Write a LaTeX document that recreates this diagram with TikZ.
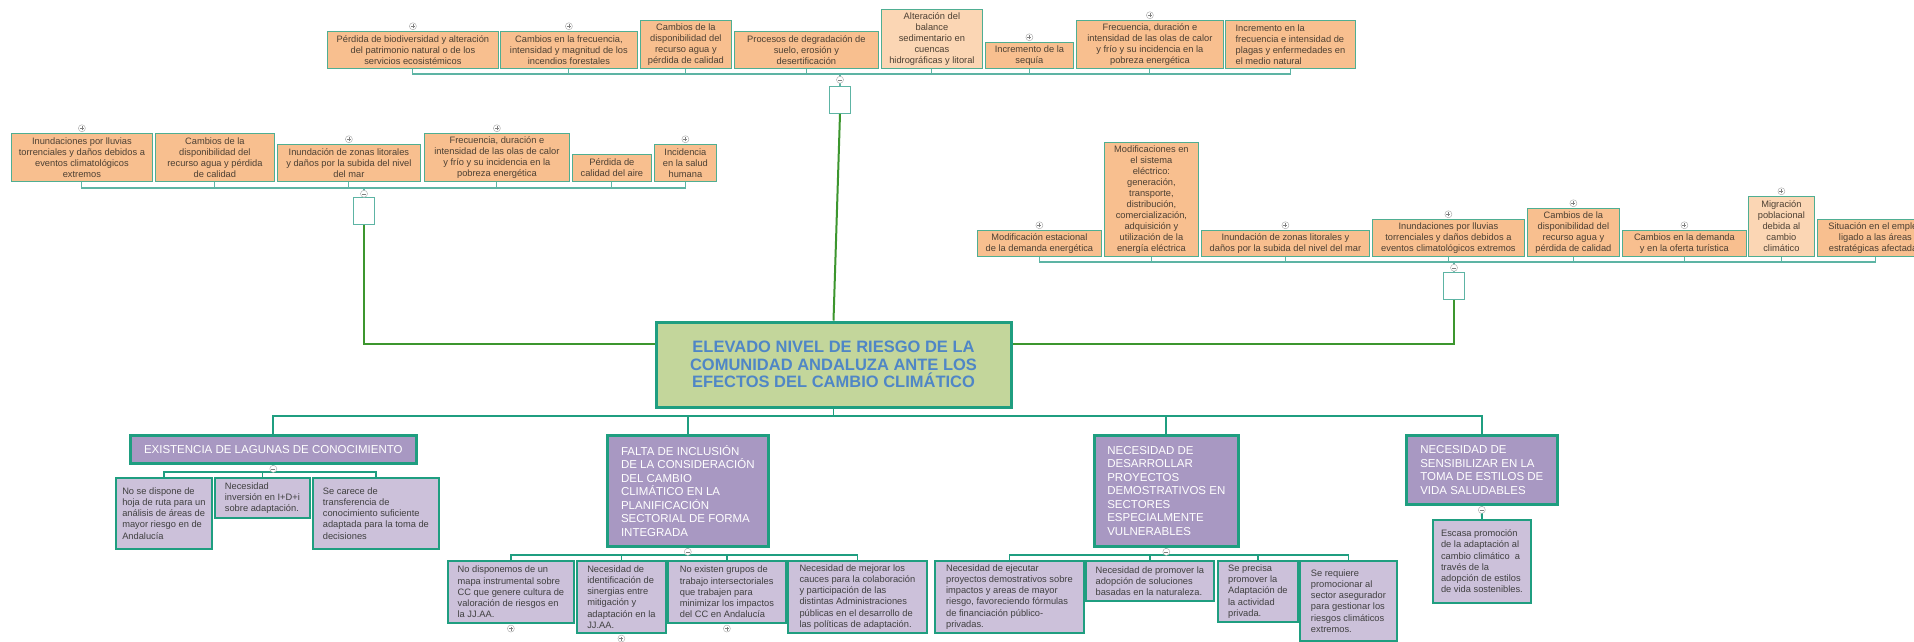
\documentclass[tikz,border=0pt]{standalone}
\usepackage{fontspec}
\setmainfont{Liberation Sans}
\usetikzlibrary{positioning}

\definecolor{boxorange}{HTML}{F8BF8F}
\definecolor{boxpeach}{HTML}{FBD6B4}
\definecolor{boxline}{HTML}{4FAE92}
\definecolor{boxtext}{HTML}{4D4033}
\definecolor{rootgreen}{HTML}{C3D69B}
\definecolor{rootblue}{HTML}{4F86C6}
\definecolor{tealline}{HTML}{1F9E80}
\definecolor{lightteal}{HTML}{5DB4A4}
\definecolor{linkgreen}{HTML}{3C962E}
\definecolor{catpurple}{HTML}{A898C2}
\definecolor{kidpurple}{HTML}{CCC1DA}
\definecolor{kidtext}{HTML}{404040}

\begin{document}
\begin{tikzpicture}[x=1pt, y=-1pt,
    orange box/.style={draw=boxline, line width=0.8pt, fill=boxorange, text=boxtext,
      font=\fontsize{9.3}{11}\selectfont, align=center, inner xsep=3pt, inner ysep=2pt, anchor=north west},
    peach box/.style={orange box, fill=boxpeach},
    empty box/.style={draw=lightteal, line width=0.8pt, fill=white, minimum width=21pt, minimum height=27pt, anchor=north},
    root box/.style={draw=tealline, line width=3pt, fill=rootgreen, text=rootblue,
      font=\bfseries\fontsize{16.5}{17.5}\selectfont, align=center, minimum width=355pt, minimum height=85pt},
    cat box/.style={draw=tealline, line width=2.6pt, fill=catpurple, text=white,
      font=\fontsize{11.5}{13.5}\selectfont, align=left, anchor=north west, inner sep=5pt},
    kid box/.style={draw=tealline, line width=1.8pt, fill=kidpurple, text=kidtext,
      font=\fontsize{9.3}{11.2}\selectfont, align=left, anchor=north west, inner xsep=4pt, inner ysep=2pt},
    thin bus/.style={draw=lightteal, line width=1.1pt},
    cat bus/.style={draw=tealline, line width=1.8pt},
    link/.style={draw=linkgreen, line width=2pt},
    plus mark/.style={circle, draw=gray!60, fill=white, line width=0.5pt, minimum size=7pt, inner sep=0pt,
      path picture={\draw[gray, line width=0.5pt]
        ([xshift=-2pt]path picture bounding box.center) -- ([xshift=2pt]path picture bounding box.center)
        ([yshift=-2pt]path picture bounding box.center) -- ([yshift=2pt]path picture bounding box.center);}},
    minus mark/.style={circle, draw=gray!60, fill=white, line width=0.5pt, minimum size=7pt, inner sep=0pt,
      path picture={\draw[gray, line width=0.5pt]
        ([xshift=-2pt]path picture bounding box.center) -- ([xshift=2pt]path picture bounding box.center);}},
  ]
  \useasboundingbox (0,0) rectangle (1914,641);
  \fill[white] (0,0) rectangle (1914,641);
  \clip (0,0) rectangle (1914,641);

  % root
  \node[root box] (root) at (833.5,364.5) {ELEVADO NIVEL DE RIESGO DE LA\\COMUNIDAD ANDALUZA ANTE LOS\\EFECTOS DEL CAMBIO CLIM\'ATICO};

  % top cluster
  \node[orange box, minimum width=171pt, minimum height=37pt] (t1) at (327,31) {P\'erdida de biodiversidad y alteraci\'on\\del patrimonio natural o de los\\servicios ecosist\'emicos};
  \node[orange box, minimum width=137pt, minimum height=37pt] (t2) at (500,31) {Cambios en la frecuencia,\\intensidad y magnitud de los\\incendios forestales};
  \node[orange box, minimum width=91pt, minimum height=48pt] (t3) at (640,20) {Cambios de la\\disponibilidad del\\recurso agua y\\p\'erdida de calidad};
  \node[orange box, minimum width=144pt, minimum height=37pt] (t4) at (734,31) {Procesos de degradaci\'on de\\suelo, erosi\'on y\\desertificaci\'on};
  \node[peach box, minimum width=101pt, minimum height=59pt] (t5) at (881,9) {Alteraci\'on del\\balance\\sedimentario en\\cuencas\\hidrogr\'aficas y litoral};
  \node[orange box, minimum width=88pt, minimum height=26pt] (t6) at (985,42) {Incremento de la\\sequ\'ia};
  \node[orange box, minimum width=147pt, minimum height=48pt] (t7) at (1076,20) {Frecuencia, duraci\'on e\\intensidad de las olas de calor\\y fr\'io y su incidencia en la\\pobreza energ\'etica};
  \node[orange box, minimum width=130pt, minimum height=48pt, align=left] (t8) at (1225,20) {Incremento en la\\frecuencia e intensidad de\\plagas y enfermedades en\\el medio natural};

  \coordinate (tbus) at (840,74);
  \foreach \n in {t1,t2,t3,t4,t5,t6,t7,t8}
    \draw[thin bus] (\n.south) |- (tbus);
  \node[empty box] (etop) at (840,86) {};
  \draw[thin bus] (tbus) -- (etop.north);
  \draw[link] (etop.south) -- (root.north);

  % left cluster
  \node[orange box, minimum width=141pt, minimum height=48pt] (l1) at (11,133) {Inundaciones por lluvias\\torrenciales y da\~nos debidos a\\eventos climatol\'ogicos\\extremos};
  \node[orange box, minimum width=119pt, minimum height=48pt] (l2) at (155,133) {Cambios de la\\disponibilidad del\\recurso agua y p\'erdida\\de calidad};
  \node[orange box, minimum width=143pt, minimum height=37pt] (l3) at (277,144) {Inundaci\'on de zonas litorales\\y da\~nos por la subida del nivel\\del mar};
  \node[orange box, minimum width=145pt, minimum height=48pt] (l4) at (424,133) {Frecuencia, duraci\'on e\\intensidad de las olas de calor\\y fr\'io y su incidencia en la\\pobreza energ\'etica};
  \node[orange box, minimum width=79pt, minimum height=27pt] (l5) at (572,154) {P\'erdida de\\calidad del aire};
  \node[orange box, minimum width=62pt, minimum height=37pt] (l6) at (654,144) {Incidencia\\en la salud\\humana};

  \coordinate (lbus) at (364,188);
  \foreach \n in {l1,l2,l3,l4,l5,l6}
    \draw[thin bus] (\n.south) |- (lbus);
  \node[empty box] (eleft) at (364,197) {};
  \draw[thin bus] (lbus) -- (eleft.north);
  \draw[link] (eleft.south) |- ([yshift=21pt]root.west);

  % right cluster
  \node[orange box, minimum width=124pt, minimum height=26pt] (r1) at (977,230) {Modificaci\'on estacional\\de la demanda energ\'etica};
  \node[orange box, minimum width=94pt, minimum height=114pt] (r2) at (1104,142) {Modificaciones en\\el sistema\\el\'ectrico:\\generaci\'on,\\transporte,\\distribuci\'on,\\comercializaci\'on,\\adquisici\'on y\\utilizaci\'on de la\\energ\'ia el\'ectrica};
  \node[orange box, minimum width=168pt, minimum height=26pt] (r3) at (1201,230) {Inundaci\'on de zonas litorales y\\da\~nos por la subida del nivel del mar};
  \node[orange box, minimum width=152pt, minimum height=37pt] (r4) at (1372,219) {Inundaciones por lluvias\\torrenciales y da\~nos debidos a\\eventos climatol\'ogicos extremos};
  \node[orange box, minimum width=92pt, minimum height=48pt] (r5) at (1527,208) {Cambios de la\\disponibilidad del\\recurso agua y\\p\'erdida de calidad};
  \node[orange box, minimum width=124pt, minimum height=26pt] (r6) at (1622,230) {Cambios en la demanda\\y en la oferta tur\'istica};
  \node[peach box, minimum width=66pt, minimum height=60pt] (r7) at (1748,196) {Migraci\'on\\poblacional\\debida al\\cambio\\clim\'atico};
  \node[orange box, minimum width=116pt, minimum height=37pt] (r8) at (1817,219) {Situaci\'on en el empleo\\ligado a las \'areas\\estrat\'egicas afectadas};

  \coordinate (rbus) at (1454,262);
  \foreach \n in {r1,r2,r3,r4,r5,r6,r7,r8}
    \draw[thin bus] (\n.south) |- (rbus);
  \node[empty box] (eright) at (1454,272) {};
  \draw[thin bus] (rbus) -- (eright.north);
  \draw[link] (eright.south) |- ([yshift=21pt]root.east);

  % problems below the root
  \node[cat box, minimum width=286pt, minimum height=28pt, align=center] (p1) at (129,434) {EXISTENCIA DE LAGUNAS DE CONOCIMIENTO};
  \node[cat box, minimum width=161pt, minimum height=111pt] (p2) at (606,434) {FALTA DE INCLUSI\'ON\\DE LA CONSIDERACI\'ON\\DEL CAMBIO\\CLIM\'ATICO EN LA\\PLANIFICACI\'ON\\SECTORIAL DE FORMA\\INTEGRADA};
  \node[cat box, minimum width=144pt, minimum height=111pt] (p3) at (1093,434) {NECESIDAD DE\\DESARROLLAR\\PROYECTOS\\DEMOSTRATIVOS EN\\SECTORES\\ESPECIALMENTE\\VULNERABLES};
  \node[cat box, minimum width=151pt, minimum height=69pt] (p4) at (1405,434) {NECESIDAD DE\\SENSIBILIZAR EN LA\\TOMA DE ESTILOS DE\\VIDA SALUDABLES};

  \coordinate (bbus) at (833.5,416);
  \draw[cat bus] (root.south) -- (bbus);
  \foreach \n in {p1,p2,p3,p4}
    \draw[cat bus] (\n.north) |- (bbus);

  \node[kid box, minimum width=96pt, minimum height=71pt] (k11) at (115,477) {No se dispone de\\hoja de ruta para un\\an\'alisis de \'areas de\\mayor riesgo en de\\Andaluc\'ia};
  \node[kid box, minimum width=95pt, minimum height=40pt] (k12) at (214,477) {Necesidad\\inversi\'on en I+D+i\\sobre adaptaci\'on.};
  \node[kid box, minimum width=126pt, minimum height=71pt] (k13) at (312,477) {Se carece de\\transferencia de\\conocimiento suficiente\\adaptada para la toma de\\decisiones};

  \node[kid box, minimum width=126pt, minimum height=62pt] (k21) at (447,560) {No disponemos de un\\mapa instrumental sobre\\CC que genere cultura de\\valoraci\'on de riesgos en\\la JJ.AA.};
  \node[kid box, minimum width=89pt, minimum height=72pt] (k22) at (576,560) {Necesidad de\\identificaci\'on de\\sinergias entre\\mitigaci\'on y\\adaptaci\'on en la\\JJ.AA.};
  \node[kid box, minimum width=118pt, minimum height=62pt] (k23) at (667,560) {No existen grupos de\\trabajo intersectoriales\\que trabajen para\\minimizar los impactos\\del CC en Andaluc\'ia};
  \node[kid box, minimum width=139pt, minimum height=72pt] (k24) at (787,560) {Necesidad de mejorar los\\cauces para la colaboraci\'on\\y participaci\'on de las\\distintas Administraciones\\p\'ublicas en el desarrollo de\\las pol\'iticas de adaptaci\'on.};

  \node[kid box, minimum width=149pt, minimum height=72pt] (k31) at (934,560) {Necesidad de ejecutar\\proyectos demostrativos sobre\\impactos y areas de mayor\\riesgo, favoreciendo f\'ormulas\\de financiaci\'on p\'ublico-\\privadas.};
  \node[kid box, minimum width=128pt, minimum height=40pt] (k32) at (1085,560) {Necesidad de promover la\\adopci\'on de soluciones\\basadas en la naturaleza.};
  \node[kid box, minimum width=80pt, minimum height=61pt] (k33) at (1217,560) {Se precisa\\promover la\\Adaptaci\'on de\\la actividad\\privada.};
  \node[kid box, minimum width=97pt, minimum height=80pt] (k34) at (1299,560) {Se requiere\\promocionar al\\sector asegurador\\para gestionar los\\riesgos clim\'aticos\\extremos.};

  \node[kid box, minimum width=98pt, minimum height=83pt] (k41) at (1432,519) {Escasa promoci\'on\\de la adaptaci\'on al\\cambio clim\'atico~ a\\trav\'es de la\\adopci\'on de estilos\\de vida sostenibles.};

  \coordinate (b1) at (272,472);
  \coordinate (b2) at (686.5,555);
  \coordinate (b3) at (1165,555);
  \draw[cat bus] (p1.south) -- (b1);
  \draw[cat bus] (p2.south) -- (b2);
  \draw[cat bus] (p3.south) -- (b3);
  \foreach \n in {k11,k12,k13}
    \draw[cat bus] (\n.north) |- (b1);
  \foreach \n in {k21,k22,k23,k24}
    \draw[cat bus] (\n.north) |- (b2);
  \foreach \n in {k31,k32,k33,k34}
    \draw[cat bus] (\n.north) |- (b3);
  \draw[cat bus] (p4.south) -- (k41.north);

  % expand / collapse marks
  \foreach \n in {t1,t2,t6,t7,l1,l3,l4,l6,r1,r3,r4,r5,r6,r7}
    \node[plus mark, above=1pt of \n] (\n-x) {};
  \foreach \n in {k21,k22,k23}
    \node[plus mark, below=1pt of \n] (\n-x) {};
  \node[minus mark, below=2pt of tbus] (tbus-x) {};
  \node[minus mark, below=2pt of lbus] (lbus-x) {};
  \node[minus mark, below=2pt of rbus] (rbus-x) {};
  \foreach \n in {p1,p2,p3,p4}
    \node[minus mark, below=0.5pt of \n] (\n-x) {};
\end{tikzpicture}
\end{document}
